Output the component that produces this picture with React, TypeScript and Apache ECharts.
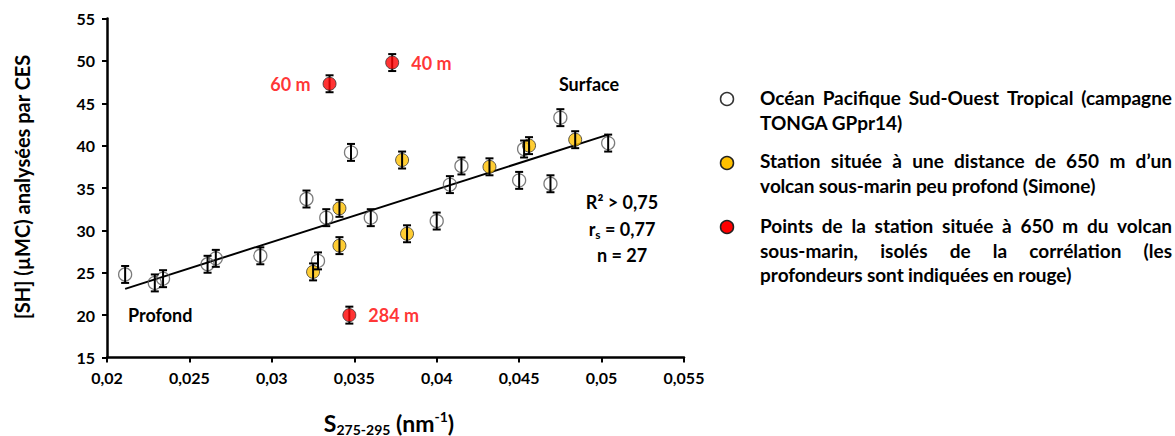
import React, { useEffect, useRef } from "react";
import * as echarts from "echarts";

// ---------- DATA ----------
const pacificX = [0.0211, 0.0229, 0.0234, 0.0261, 0.0266, 0.0293, 0.0321, 0.0333, 0.0328, 0.0348, 0.0360, 0.0400, 0.0408, 0.0415, 0.0450, 0.0453, 0.0469, 0.0475, 0.0504];
const pacificY = [24.8, 23.8, 24.3, 26.0, 26.7, 27.0, 33.7, 31.5, 26.4, 39.2, 31.5, 31.1, 35.4, 37.6, 35.9, 39.6, 35.5, 43.3, 40.3];
const pacificErr = [1.0, 1.0, 1.0, 1.0, 1.0, 1.0, 1.0, 1.0, 1.0, 1.0, 1.0, 1.0, 1.0, 1.0, 1.0, 1.0, 1.0, 1.0, 1.0];

const simoneX = [0.0325, 0.0341, 0.0341, 0.0379, 0.0382, 0.0432, 0.0456, 0.0484];
const simoneY = [25.1, 32.6, 28.2, 38.3, 29.6, 37.5, 40.0, 40.7];
const simoneErr = [1.0, 1.0, 1.0, 1.0, 1.0, 1.0, 1.0, 1.0];

const isolatedX = [0.0335, 0.0373, 0.0347];
const isolatedY = [47.3, 49.8, 20.0];
const isolatedErr = [1.0, 1.0, 1.0];
const isolatedDepths = ["60 m", "40 m", "284 m"];
const isolatedLabelSide = ["left", "right", "right"];

const trendX = [0.0211, 0.0504];
const trendY = [23.1, 41.3];

const xTicks = { min: 0.02, max: 0.055, interval: 0.005 };
const yTicks = { min: 15, max: 55, interval: 5 };

const yTitle = "[SH] (µMC) analysées par CES";
const legendLines1 = ["Océan Pacifique Sud-Ouest Tropical (campagne", "TONGA GPpr14)"];
const legendLines2 = ["Station située à une distance de 650 m d’un", "volcan sous-marin peu profond (Simone)"];
const legendLines3 = ["Points de la station située à 650 m du volcan", "sous-marin, isolés de la corrélation (les", "profondeurs sont indiquées en rouge)"];
const statsR2 = "R² > 0,75";
const statsRs = "0,77";
const statsN = "n = 27";

// ---------- STYLE ----------
const FF = "Lato";
const WHITE_FILL = "#FFFFFF";
const YELLOW = "#FFC000";
const RED = "#FF0000";

// text width measured through the DOM, with the same font engine as the SVG text
let measureSpan: HTMLSpanElement | null = null;
function measure(text: string, font: string): number {
  if (!measureSpan) {
    measureSpan = document.createElement("span");
    measureSpan.style.position = "absolute";
    measureSpan.style.left = "0";
    measureSpan.style.top = "0";
    measureSpan.style.visibility = "hidden";
    measureSpan.style.whiteSpace = "pre";
    document.body.appendChild(measureSpan);
  }
  measureSpan.style.font = font;
  measureSpan.textContent = text;
  return measureSpan.getBoundingClientRect().width;
}
function releaseMeasure() {
  if (measureSpan) {
    measureSpan.remove();
    measureSpan = null;
  }
}

// mode: "plain" left-aligned; "justify" spreads words across x0..x1; "fit" spreads letters so the line ends at x1
function lineEls(text: string, x0: number, x1: number, y: number, font: string, mode: "plain" | "justify" | "fit") {
  if (mode === "plain") {
    return [{ type: "text", x: x0, y, style: { text, font, fill: "#000", textVerticalAlign: "middle" } }];
  }
  if (mode === "fit") {
    const chars = Array.from(text);
    const total = measure(text, font);
    const extra = (x1 - x0 - total) / (chars.length - 1);
    const els: any[] = [];
    let prefix = "";
    chars.forEach((c, i) => {
      const px = measure(prefix, font);
      if (c !== " ") {
        els.push({ type: "text", x: x0 + px + i * extra, y, style: { text: c, font, fill: "#000", textVerticalAlign: "middle" } });
      }
      prefix += c;
    });
    return els;
  }
  const words = text.split(" ");
  const widths = words.map((w) => measure(w, font));
  const total = widths.reduce((a, b) => a + b, 0);
  const gap = (x1 - x0 - total) / (words.length - 1);
  let x = x0;
  return words.map((w, i) => {
    const el = { type: "text", x, y, style: { text: w, font, fill: "#000", textVerticalAlign: "middle" } };
    x += widths[i] + gap;
    return el;
  });
}

function composite(parts: { t: string; size: number; dy: number }[], cx: number, cy: number) {
  const fonts = parts.map((p) => `bold ${p.size}px ${FF}`);
  const widths = parts.map((p, i) => measure(p.t, fonts[i]));
  const total = widths.reduce((a, b) => a + b, 0);
  let x = cx - total / 2;
  return parts.map((p, i) => {
    const el = { type: "text", x, y: cy + p.dy, style: { text: p.t, font: fonts[i], fill: "#000", textVerticalAlign: "middle" } };
    x += widths[i];
    return el;
  });
}

function errRender(params: any, api: any) {
  const x = api.value(0), y = api.value(1), e = api.value(2);
  const top = api.coord([x, y + e]);
  const bot = api.coord([x, y - e]);
  const cap = 4;
  const st = { stroke: "#000", lineWidth: 2 };
  return {
    type: "group",
    children: [
      { type: "line", shape: { x1: top[0], y1: top[1], x2: bot[0], y2: bot[1] }, style: st },
      { type: "line", shape: { x1: top[0] - cap, y1: top[1], x2: top[0] + cap, y2: top[1] }, style: st },
      { type: "line", shape: { x1: bot[0] - cap, y1: bot[1], x2: bot[0] + cap, y2: bot[1] }, style: st },
    ],
  };
}

export default function App() {
  const ref = useRef<HTMLDivElement>(null);
  useEffect(() => {
    const pac = pacificX.map((x, i) => [x, pacificY[i], pacificErr[i]]);
    const sim = simoneX.map((x, i) => [x, simoneY[i], simoneErr[i]]);
    const iso = isolatedX.map((x, i) => [x, isolatedY[i], isolatedErr[i]]);

    const LFONT = `bold 19px ${FF}`;
    const AFONT = `bold 18px ${FF}`;
    const LX0 = 760, LX1 = 1172;
    const graphics: any[] = [];
    // legend markers
    [[99, WHITE_FILL, "#333"], [163, YELLOW, "#222"], [227, RED, "#222"]].forEach(([cy, fill, stroke]) => {
      graphics.push({ type: "circle", shape: { cx: 727, cy, r: 6.5 }, style: { fill, stroke, lineWidth: 1.5 } });
    });
    graphics.push(...lineEls(legendLines1[0], LX0, LX1, 97, LFONT, "justify"));
    graphics.push(...lineEls(legendLines1[1], LX0, LX1, 122, LFONT, "plain"));
    graphics.push(...lineEls(legendLines2[0], LX0, LX1, 160, LFONT, "justify"));
    graphics.push(...lineEls(legendLines2[1], LX0, 1095, 185, LFONT, "fit"));
    graphics.push(...lineEls(legendLines3[0], LX0, LX1, 225, LFONT, "justify"));
    graphics.push(...lineEls(legendLines3[1], LX0, LX1, 250, LFONT, "justify"));
    graphics.push(...lineEls(legendLines3[2], LX0, 1071, 274, LFONT, "fit"));

    // annotations
    graphics.push({ type: "text", x: 589, y: 84, style: { text: "Surface", font: AFONT, fill: "#000", textAlign: "center", textVerticalAlign: "middle" } });
    graphics.push({ type: "text", x: 128, y: 315, style: { text: "Profond", font: AFONT, fill: "#000", textVerticalAlign: "middle" } });
    graphics.push({ type: "text", x: 622, y: 202, style: { text: statsR2, font: AFONT, fill: "#000", textAlign: "center", textVerticalAlign: "middle" } });
    graphics.push(...composite([{ t: "r", size: 18, dy: 0 }, { t: "s", size: 12, dy: 5 }, { t: " = " + statsRs, size: 18, dy: 0 }], 622, 229));
    graphics.push({ type: "text", x: 622, y: 255, style: { text: statsN, font: AFONT, fill: "#000", textAlign: "center", textVerticalAlign: "middle" } });

    // axis titles
    graphics.push({ type: "text", x: 22, y: 187, rotation: Math.PI / 2, style: { text: yTitle, font: `bold 20px ${FF}`, fill: "#000", textAlign: "center", textVerticalAlign: "middle" } });
    graphics.push(...composite([
      { t: "S", size: 23, dy: 0 },
      { t: "275-295", size: 14, dy: 6 },
      { t: " (nm", size: 23, dy: 0 },
      { t: "-1", size: 14, dy: -7 },
      { t: ")", size: 23, dy: 0 },
    ], 389, 423));
    releaseMeasure();

    const chart = echarts.init(ref.current!, undefined, { renderer: "svg" });
    const option: any = {
      animation: false,
      backgroundColor: "#fff",
      grid: { left: 107, right: 491, top: 18.5, bottom: 78.5 },
      xAxis: {
        type: "value",
        min: xTicks.min,
        max: xTicks.max,
        interval: xTicks.interval,
        splitLine: { show: false },
        axisLine: { onZero: false, lineStyle: { color: "#000", width: 2.5 } },
        axisTick: { show: true, inside: false, length: 5, lineStyle: { color: "#000", width: 2 } },
        axisLabel: {
          margin: 12,
          color: "#000",
          fontFamily: FF,
          fontWeight: "bold",
          fontSize: 16,
          formatter: (v: number) => String(parseFloat(v.toFixed(4))).replace(".", ","),
        },
      },
      yAxis: {
        type: "value",
        min: yTicks.min,
        max: yTicks.max,
        interval: yTicks.interval,
        splitLine: { show: false },
        axisLine: { show: true, onZero: false, lineStyle: { color: "#000", width: 2.5 } },
        axisTick: { show: true, inside: false, length: 5, lineStyle: { color: "#000", width: 2 } },
        axisLabel: { margin: 12, color: "#000", fontFamily: FF, fontWeight: "bold", fontSize: 16 },
      },
      series: [
        {
          type: "line",
          data: trendX.map((x, i) => [x, trendY[i]]),
          showSymbol: false,
          symbol: "none",
          lineStyle: { color: "#000", width: 2 },
          z: 2,
          silent: true,
        },
        { type: "custom", data: iso, renderItem: errRender, encode: { x: 0, y: 1 }, z: 2, silent: true },
        {
          type: "scatter",
          data: pac,
          symbol: "circle",
          symbolSize: 13,
          itemStyle: { color: "rgba(255,255,255,0)", borderColor: "#5a5a5a", borderWidth: 1.3 },
          z: 3,
        },
        {
          type: "scatter",
          data: sim,
          symbol: "circle",
          symbolSize: 13,
          itemStyle: { color: YELLOW, borderColor: "#333", borderWidth: 1 },
          z: 3,
        },
        {
          type: "scatter",
          data: iso.map((d, i) => ({
            value: d,
            label: {
              show: true,
              position: isolatedLabelSide[i],
              distance: 12,
              formatter: isolatedDepths[i],
              color: RED,
              fontFamily: FF,
              fontWeight: "bold",
              fontSize: 18,
            },
          })),
          symbol: "circle",
          symbolSize: 13,
          itemStyle: { color: RED, borderColor: "#333", borderWidth: 1 },
          z: 5,
        },
        { type: "custom", data: pac, renderItem: errRender, encode: { x: 0, y: 1 }, z: 4, silent: true },
        { type: "custom", data: sim, renderItem: errRender, encode: { x: 0, y: 1 }, z: 4, silent: true },
      ],
      graphic: graphics,
    };
    chart.setOption(option);
    return () => chart.dispose();
  }, []);
  return <div ref={ref} style={{ width: 1175, height: 436, position: "absolute", left: 0, top: 0 }} />;
}
